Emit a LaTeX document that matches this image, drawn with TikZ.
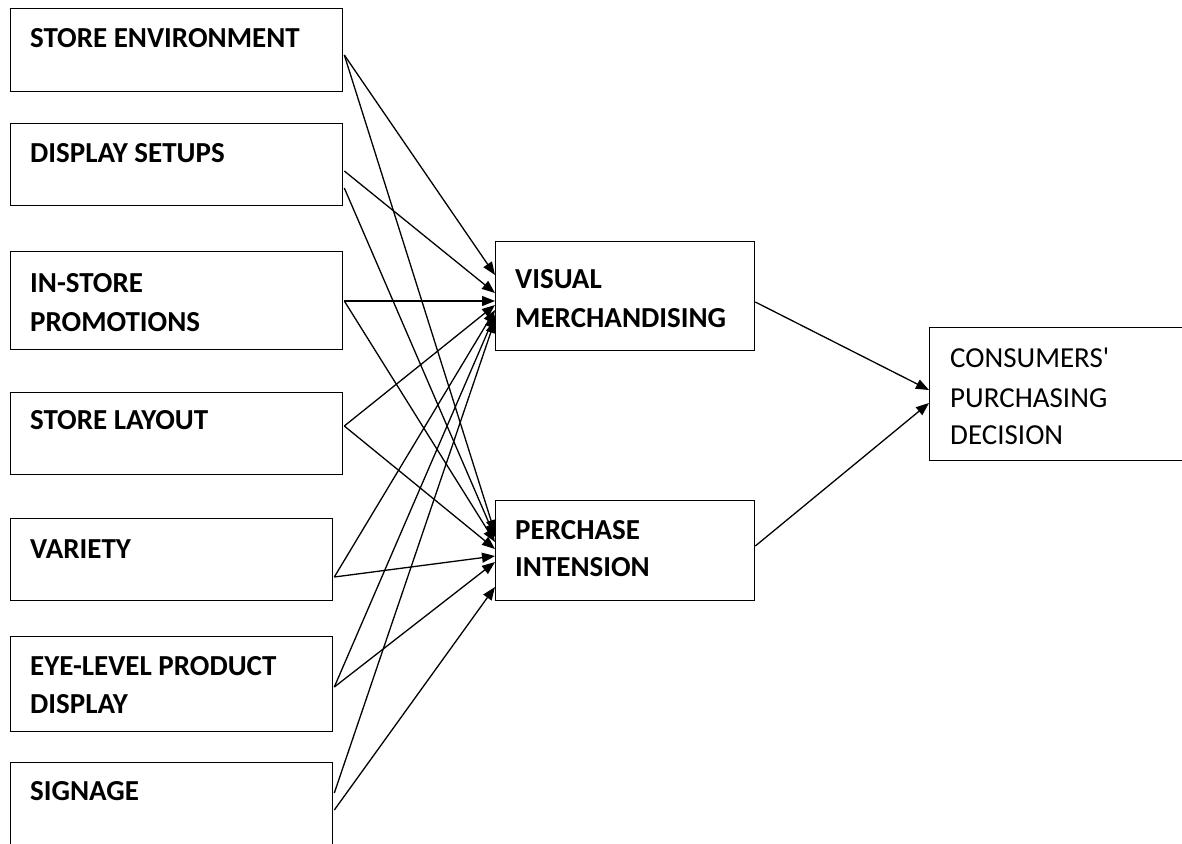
\documentclass[tikz,border=0pt]{standalone}
\usepackage{fontspec}
\setmainfont{Carlito}[Ligatures=TeXOff]
\usetikzlibrary{arrows.meta,calc}
\tikzset{
  box/.style={draw=black, line width=1.3pt, rectangle, inner sep=0pt, anchor=north west},
  lbl/.style={anchor=base west, inner sep=0pt, font=\fontsize{29}{38}\selectfont\bfseries},
  lblr/.style={anchor=base west, inner sep=0pt, font=\fontsize{29}{38}\selectfont},
  conn/.style={draw=black, line width=1.3pt, -{Triangle[length=13pt,width=10pt]}},
}
\begin{document}
\begin{tikzpicture}[x=1pt,y=-1pt]
\useasboundingbox (0,0) rectangle (1182,843);
\fill[white] (0,0) rectangle (1182,843);
\begin{scope}
\clip (0,0) rectangle (1182,843);
% left boxes
\node[box, minimum width=332pt, minimum height=83pt] (se) at (10,8) {};
\node[box, minimum width=332pt, minimum height=82pt] (ds) at (10,123) {};
\node[box, minimum width=332pt, minimum height=98pt] (ip) at (10,251) {};
\node[box, minimum width=332pt, minimum height=82pt] (sl) at (10,392) {};
\node[box, minimum width=322pt, minimum height=82pt] (va) at (10,518) {};
\node[box, minimum width=322pt, minimum height=95pt] (ey) at (10,636) {};
\node[box, minimum width=322pt, minimum height=110pt] (sg) at (10,762) {};
% middle boxes
\node[box, minimum width=259pt, minimum height=109pt] (vm) at (495,241) {};
\node[box, minimum width=259pt, minimum height=100pt] (pi) at (495,500) {};
% right box
\node[box, minimum width=270pt, minimum height=133pt] (cp) at (929,327) {};
\end{scope}
% texts
\node[lbl] (tse) at ($(se.north west)+(20,40)$) {STORE ENVIRONMENT};
\node[lbl] (tds) at ($(ds.north west)+(20,39)$) {DISPLAY SETUPS};
\node[lbl] (tip1) at ($(ip.north west)+(20,41)$) {IN-STORE};
\node[lbl] (tip2) at ($(ip.north west)+(20,80)$) {PROMOTIONS};
\node[lbl] (tsl) at ($(sl.north west)+(20,37)$) {STORE LAYOUT};
\node[lbl] (tva) at ($(va.north west)+(20,40)$) {VARIETY};
\node[lbl] (tey1) at ($(ey.north west)+(20,39)$) {EYE-LEVEL PRODUCT};
\node[lbl] (tey2) at ($(ey.north west)+(20,77)$) {DISPLAY};
\node[lbl] (tsg) at ($(sg.north west)+(20,38)$) {SIGNAGE};
\node[lbl] (tvm1) at ($(vm.north west)+(20,47)$) {VISUAL};
\node[lbl] (tvm2) at ($(vm.north west)+(20,86)$) {MERCHANDISING};
\node[lbl] (tpi1) at ($(pi.north west)+(20,39)$) {PERCHASE};
\node[lbl] (tpi2) at ($(pi.north west)+(20,76)$) {INTENSION};
\node[lblr] (tcp1) at ($(cp.north west)+(21,40)$) {CONSUMERS'};
\node[lblr] (tcp2) at ($(cp.north west)+(21,80)$) {PURCHASING};
\node[lblr] (tcp3) at ($(cp.north west)+(21,117)$) {DECISION};
% start points
\coordinate (se-o) at ($(se.north east)+(1,47)$);
\coordinate (ds-a) at ($(ds.north east)+(1,48)$);
\coordinate (ds-b) at ($(ds.north east)+(1,65)$);
\coordinate (ip-o) at ($(ip.north east)+(1,50)$);
\coordinate (sl-o) at ($(sl.north east)+(1,34)$);
\coordinate (va-o) at ($(va.north east)+(1,59)$);
\coordinate (ey-o) at ($(ey.north east)+(1,51)$);
\coordinate (sg-a) at ($(sg.north east)+(1,31)$);
\coordinate (sg-b) at ($(sg.north east)+(1,48)$);
% arrows to VM
\draw[conn] (se-o) -- ($(vm.north west)+(0,34)$);
\draw[conn] (ds-a) -- ($(vm.north west)+(0,52)$);
\draw[conn] (ip-o) -- ($(vm.north west)+(0,60)$);
\draw[conn] (sl-o) -- ($(vm.north west)+(0,64)$);
\draw[conn] (va-o) -- ($(vm.north west)+(0,69)$);
\draw[conn] (ey-o) -- ($(vm.north west)+(0,74)$);
\draw[conn] (sg-a) -- ($(vm.north west)+(0,79)$);
% arrows to PI
\draw[conn] (se-o) -- ($(pi.north west)+(0,33)$);
\draw[conn] (ds-b) -- ($(pi.north west)+(0,37)$);
\draw[conn] (ip-o) -- ($(pi.north west)+(0,42)$);
\draw[conn] (sl-o) -- ($(pi.north west)+(0,49)$);
\draw[conn] (va-o) -- ($(pi.north west)+(0,56)$);
\draw[conn] (ey-o) -- ($(pi.north west)+(0,62)$);
\draw[conn] (sg-b) -- ($(pi.north west)+(0,87)$);
% to CPD
\draw[conn] ($(vm.north east)+(0,61)$) -- ($(cp.north west)+(0,63)$);
\draw[conn] ($(pi.north east)+(0,46)$) -- ($(cp.north west)+(0,76)$);
\end{tikzpicture}
\end{document}
